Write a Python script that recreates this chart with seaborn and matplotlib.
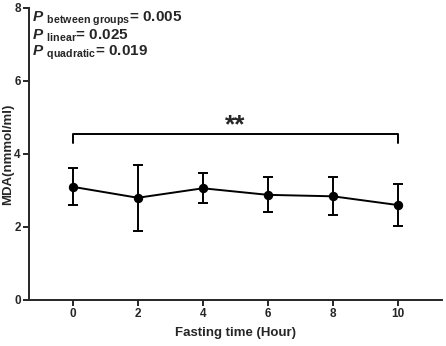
# MDA level across fasting time points
import numpy as np
import pandas as pd
import seaborn as sns
import matplotlib.pyplot as plt

# values
hours = [0, 2, 4, 6, 8, 10]
mda_mean = [3.10, 2.80, 3.06, 2.88, 2.84, 2.60]
err_upper = [0.51, 0.90, 0.41, 0.50, 0.52, 0.59]
err_lower = [0.50, 0.90, 0.41, 0.47, 0.52, 0.56]
p_labels = ['between groups', 'linear', 'quadratic']
p_values = ['0.005', '0.025', '0.019']

df = pd.DataFrame({'hour': hours, 'mda': mda_mean})

sns.set_style("ticks")
plt.rcParams['font.family'] = ['Liberation Sans', 'DejaVu Sans']
plt.rcParams['font.weight'] = 'bold'
plt.rcParams['mathtext.fontset'] = 'custom'
plt.rcParams['mathtext.bf'] = 'Liberation Sans:bold'
plt.rcParams['mathtext.bfit'] = 'Liberation Sans:bold:italic'
plt.rcParams['mathtext.rm'] = 'Liberation Sans'
plt.rcParams['mathtext.it'] = 'Liberation Sans:italic'

fig = plt.figure(figsize=(4.46, 3.46), dpi=100)
ax = fig.add_axes([0.065, 0.133, 0.926, 0.844])

ax.errorbar(hours, mda_mean, yerr=[err_lower, err_upper], fmt='none',
            ecolor='black', elinewidth=1.4, capsize=3.5, capthick=1.4, zorder=2)
sns.lineplot(data=df, x='hour', y='mda', ax=ax, color='black', linewidth=1.4,
             marker='o', markersize=6, markeredgecolor='black', zorder=3)

# significance bracket
ax.plot([0, 0, 10, 10], [4.29, 4.54, 4.54, 4.29], color='black', linewidth=1.4)
ax.text(5, 4.45, '**', ha='center', va='bottom', fontsize=19, fontweight='bold')

# P value annotations
for i, (lab, val) in enumerate(zip(p_labels, p_values)):
    lab_tex = lab.replace(' ', r'\ ')
    ax.text(-1.25, 7.70 - i * 0.465,
            r'$\mathbfit{P}\ _{\mathbf{' + lab_tex + '}}$= ' + val,
            fontsize=11, fontweight='bold', ha='left', va='center')

ax.set_xlim(-1.345, 11.35)
ax.set_ylim(0, 8)
ax.set_xticks(hours)
ax.set_yticks([0, 2, 4, 6, 8])
ax.set_xlabel('Fasting time (Hour)', fontsize=9.5, fontweight='bold', labelpad=5)
ax.set_ylabel('MDA(nmmol/ml)', fontsize=9.5, fontweight='bold')
ax.yaxis.set_label_coords(-0.036, 0.5)
ax.tick_params(labelsize=8.5, width=1.4, length=4, pad=2)
for lab in ax.get_xticklabels() + ax.get_yticklabels():
    lab.set_fontweight('bold')
sns.despine(ax=ax)
for sp in ['left', 'bottom']:
    ax.spines[sp].set_linewidth(1.4)

fig.savefig('out.png', dpi=100)
